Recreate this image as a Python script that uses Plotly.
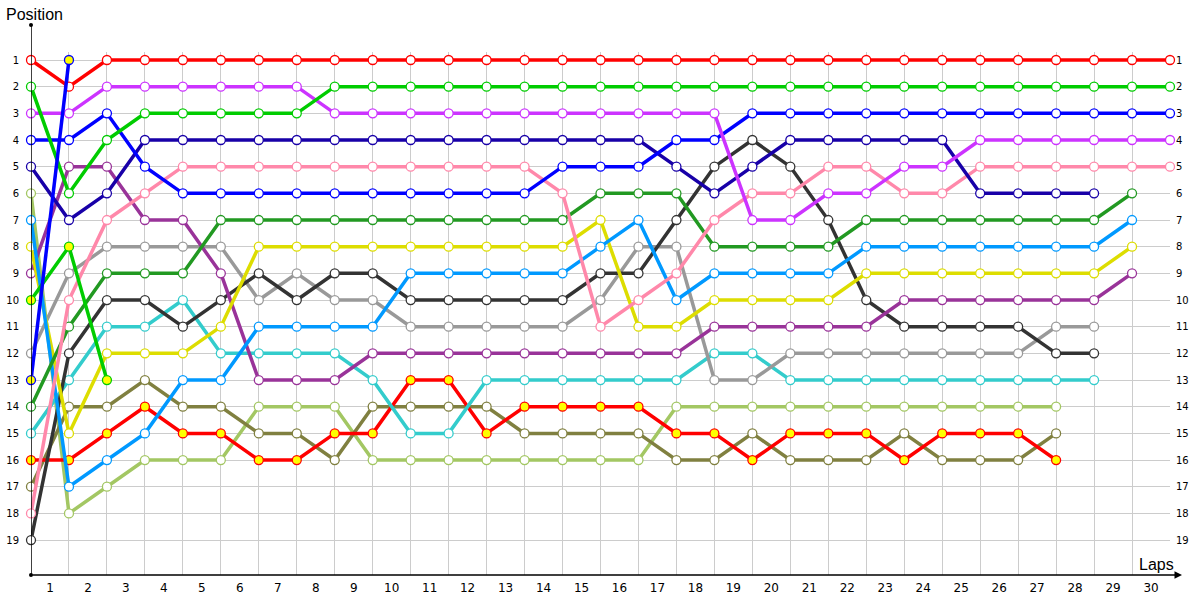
import plotly.graph_objects as go

# Positions per lap (index = lap number, starting at lap 0 = grid)
red = [1, 2] + [1] * 29
green = [2, 6, 4, 3, 3, 3, 3, 3] + [2] * 23
magenta = [3, 3, 2, 2, 2, 2, 2, 2, 3, 3, 3, 3, 3, 3, 3, 3, 3, 3, 3, 7, 7, 6, 6, 5, 5, 4, 4, 4, 4, 4, 4]
blue = [4, 4, 3, 5, 6, 6, 6, 6, 6, 6, 6, 6, 6, 6, 5, 5, 5, 4, 4, 3, 3, 3, 3, 3, 3, 3, 3, 3, 3, 3, 3]
navy = [5, 7, 6, 4, 4, 4, 4, 4, 4, 4, 4, 4, 4, 4, 4, 4, 4, 5, 6, 5, 4, 4, 4, 4, 4, 6, 6, 6, 6]
pink = [18, 10, 7, 6, 5, 5, 5, 5, 5, 5, 5, 5, 5, 5, 6, 11, 10, 9, 7, 6, 6, 5, 5, 6, 6, 5, 5, 5, 5, 5, 5]
dark_green = [14, 11, 9, 9, 9, 7, 7, 7, 7, 7, 7, 7, 7, 7, 7, 6, 6, 6, 8, 8, 8, 8, 7, 7, 7, 7, 7, 7, 7, 6]
light_blue = [7, 17, 16, 15, 13, 13, 11, 11, 11, 11, 9, 9, 9, 9, 9, 8, 7, 10, 9, 9, 9, 9, 8, 8, 8, 8, 8, 8, 8, 7]
yellow = [8, 15, 12, 12, 12, 11, 8, 8, 8, 8, 8, 8, 8, 8, 8, 7, 11, 11, 10, 10, 10, 10, 9, 9, 9, 9, 9, 9, 9, 8]
purple = [9, 5, 5, 7, 7, 9, 13, 13, 13, 12, 12, 12, 12, 12, 12, 12, 12, 12, 11, 11, 11, 11, 11, 10, 10, 10, 10, 10, 10, 9]
black = [19, 12, 10, 10, 11, 10, 9, 10, 9, 9, 10, 10, 10, 10, 10, 9, 9, 7, 5, 4, 5, 7, 10, 11, 11, 11, 11, 12, 12]
gray = [12, 9, 8, 8, 8, 8, 10, 9, 10, 10, 11, 11, 11, 11, 11, 10, 8, 8, 13, 13, 12, 12, 12, 12, 12, 12, 12, 11, 11]
cyan = [15, 13, 11, 11, 10, 12, 12, 12, 12, 13, 15, 15, 13, 13, 13, 13, 13, 13, 12, 12, 13, 13, 13, 13, 13, 13, 13, 13, 13]
olive = [17, 14, 14, 13, 14, 14, 15, 15, 16, 14, 14, 14, 14, 15, 15, 15, 15, 16, 16, 15, 16, 16, 16, 15, 16, 16, 16, 15]
light_green = [6, 18, 17, 16, 16, 16, 14, 14, 14, 16, 16, 16, 16, 16, 16, 16, 16, 14, 14, 14, 14, 14, 14, 14, 14, 14, 14, 14]
red_b = [16, 16, 15, 14, 15, 15, 16, 16, 15, 15, 13, 13, 15, 14, 14, 14, 14, 15, 15, 16, 15, 15, 15, 16, 15, 15, 15, 16]
green_b = [10, 8, 13]
blue_b = [13, 1]

x_labels = [str(i) for i in range(1, 31)]
y_labels = [str(i) for i in range(1, 20)]

series = [
    (light_green, "#a3c763", "white"),
    (olive, "#808040", "white"),
    (red_b, "#ff0000", "#ffff00"),
    (cyan, "#33cccc", "white"),
    (gray, "#999999", "white"),
    (black, "#333333", "white"),
    (purple, "#993399", "white"),
    (yellow, "#dddd00", "white"),
    (light_blue, "#0099ff", "white"),
    (dark_green, "#229922", "white"),
    (pink, "#ff88aa", "white"),
    (navy, "#1800a8", "white"),
    (blue, "#0000ff", "white"),
    (magenta, "#cc33ff", "white"),
    (green, "#00cc00", "white"),
    (red, "#ff0000", "white"),
    (green_b, "#00cc00", "#ffff00"),
    (blue_b, "#0000ff", "#ffff00"),
]

fig = go.Figure()
for ys, col, fill in series:
    fig.add_trace(go.Scatter(
        x=list(range(len(ys))), y=ys, mode="lines+markers",
        line=dict(color=col, width=3.5),
        marker=dict(size=9, color=fill, line=dict(color=col, width=1.3)),
        cliponaxis=False, showlegend=False, hoverinfo="skip",
    ))

# dummy trace for the right-hand axis
fig.add_trace(go.Scatter(x=[None], y=[None], yaxis="y2", showlegend=False, hoverinfo="skip"))

L, R, T, B = 31, 30, 52, 25
W, H = 1200, 600
pw = W - L - R
ph = H - T - B
yr = [20.31, 0.7]

fig.update_layout(
    width=W, height=H,
    margin=dict(l=L, r=R, t=T, b=B, pad=0, autoexpand=False),
    plot_bgcolor="white", paper_bgcolor="white",
    font=dict(family="DejaVu Sans", color="#000000"),
    xaxis=dict(
        range=[0, 30], tickmode="array", automargin=False,
        tickvals=[i - 0.5 for i in range(1, 31)], ticktext=x_labels,
        showgrid=False, zeroline=False, showline=False, ticks="",
        tickfont=dict(size=12, family="DejaVu Sans"), ticklabelstandoff=4,
        minor=dict(tick0=0, dtick=1, showgrid=True, gridcolor="#cccccc", gridwidth=1, ticks=""),
    ),
    yaxis=dict(
        range=yr, tickmode="array", tickvals=list(range(1, 20)), ticktext=y_labels,
        automargin=False,
        showgrid=True, gridcolor="#cccccc", gridwidth=1, zeroline=False, showline=False,
        ticks="", tickfont=dict(size=10, family="DejaVu Sans"), ticklabelstandoff=11,
    ),
    yaxis2=dict(
        range=yr, overlaying="y", side="right", tickmode="array", automargin=False,
        tickvals=list(range(1, 20)), ticktext=y_labels, showgrid=False, zeroline=False,
        showline=False, ticks="", tickfont=dict(size=10, family="DejaVu Sans"), ticklabelstandoff=5,
    ),
)

ext = 1 + 27 / ph
fig.add_shape(type="line", xref="x", yref="paper", x0=0, x1=0, y0=0, y1=ext,
              line=dict(color="black", width=1.5), layer="above")
fig.add_shape(type="circle", xref="paper", yref="paper",
              x0=-2 / pw, x1=2 / pw, y0=ext - 2 / ph, y1=ext + 2 / ph,
              fillcolor="black", line=dict(color="black", width=0))
fig.add_shape(type="circle", xref="paper", yref="paper",
              x0=-2 / pw, x1=2 / pw, y0=-2 / ph, y1=2 / ph,
              fillcolor="black", line=dict(color="black", width=0))
# x axis with arrow
fig.add_annotation(x=(1182 - L) / pw, y=0, xref="paper", yref="paper",
                   ax=-(1182 - L), ay=0, axref="pixel", ayref="pixel",
                   text="", showarrow=True, arrowhead=2, arrowsize=1,
                   arrowwidth=1.5, arrowcolor="black")
fig.add_annotation(x=(1176 - L) / pw, y=(575 - 564) / ph, xref="paper", yref="paper",
                   text="Laps", showarrow=False, xanchor="right", yanchor="middle",
                   font=dict(size=16, family="Liberation Sans", color="black"))
fig.add_annotation(x=(4 - L) / pw, y=1 + (52 - 15) / ph, xref="paper", yref="paper",
                   text="Position", showarrow=False, xanchor="left", yanchor="middle",
                   font=dict(size=16, family="Liberation Sans", color="black"))

fig.write_html("out.html", config={"displayModeBar": False},
               post_script="document.body.style.margin='0px';document.body.style.overflow='hidden';")
